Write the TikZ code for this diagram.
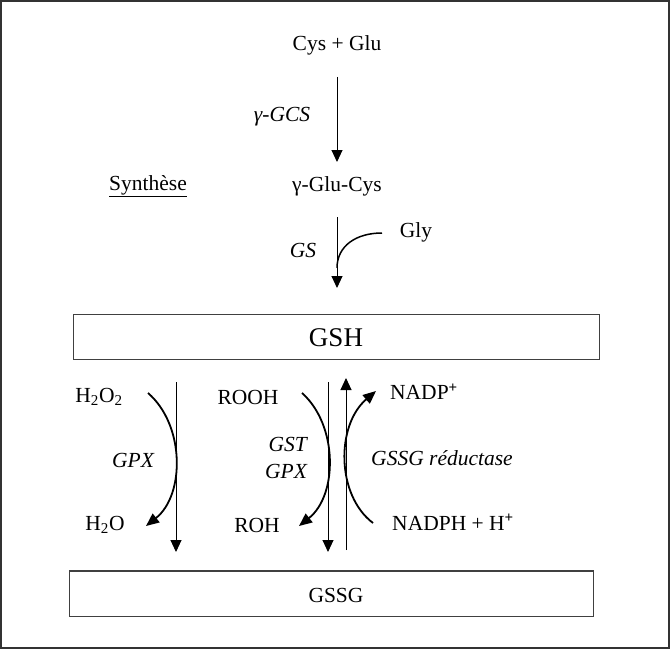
\documentclass[tikz,border=0pt]{standalone}
\usepackage{fontspec}
\setmainfont{Liberation Serif}
\usetikzlibrary{arrows.meta}
\begin{document}
\begin{tikzpicture}[x=1pt,y=-1pt,
  lbl/.style={inner sep=0pt,font=\fontsize{21.5}{24}\selectfont},
  enz/.style={lbl,font=\fontsize{21.5}{27}\selectfont\itshape},
  pool/.style={draw=black!75,line width=1.5pt,inner sep=0pt},
  thin/.style={line width=1pt,-{Triangle[length=12pt,width=11pt]}},
  bent/.style={line width=1.8pt,-{Triangle[length=13pt,width=11pt]}},
  plain/.style={line width=1pt}]
\useasboundingbox (0,0) rectangle (671,650);
\draw[black!80,line width=2pt] (1,1) rectangle (669,648);
% boxes
\node[pool,minimum width=526pt,minimum height=45pt] (gsh) at (336.5,337) {};
\node[lbl,font=\fontsize{27}{30}\selectfont] (gshl) at (336,338) {GSH};
\node[pool,minimum width=524pt,minimum height=45.5pt] (gssg) at (331.5,593.5) {};
\node[lbl] (gssgl) at (336,595) {GSSG};
% synthesis
\node[lbl] (cysglu) at (337,45) {Cys + Glu};
\node[enz] (gcs) at (282,117) {γ-GCS};
\node[lbl] (glucys) at (337,186) {γ-Glu-Cys};
\node[lbl] (synth) at (148,186) {\underline{Synth\`ese}};
\node[enz] (gs) at (303,250) {GS};
\node[lbl] (gly) at (416,232) {Gly};
\coordinate (a1s) at (337,77);
\coordinate (a1e) at (337,162);
\coordinate (a2s) at (337,217);
\coordinate (a2e) at (337,288);
\coordinate (glys) at (382,233);
\coordinate (glye) at (337,268);
\draw[thin] (a1s) -- (a1e);
\draw[thin] (a2s) -- (a2e);
\draw[line width=1.5pt] (glys) .. controls (356,233) and (337,246) .. (glye);
% lower left
\node[lbl] (h2o2) at (99,397) {H\textsubscript{2}O\textsubscript{2}};
\node[enz] (gpx1) at (133,460) {GPX};
\node[lbl] (h2o) at (105,525) {H\textsubscript{2}O};
\coordinate (v1s) at (176,382);
\coordinate (v1e) at (176,552);
\draw[thin] (v1s) -- (v1e);
\coordinate (c1s) at (148,393);
\coordinate (c1e) at (146,526);
\draw[bent] (c1s) .. controls (185,425) and (185,495) .. (c1e);
% middle
\node[lbl] (rooh) at (248,397) {ROOH};
\node[enz,align=right] (gstgpx) at (286,458) {GST\\GPX};
\node[lbl] (roh) at (257,525) {ROH};
\coordinate (v2s) at (328,382);
\coordinate (v2e) at (328,552);
\draw[thin] (v2s) -- (v2e);
\coordinate (c2s) at (302,393);
\coordinate (c2e) at (299,526);
\draw[bent] (c2s) .. controls (338,425) and (338,495) .. (c2e);
% right
\coordinate (v3s) at (346,550);
\coordinate (v3e) at (346,378);
\draw[thin] (v3s) -- (v3e);
\node[lbl] (nadp) at (424,392) {NADP\textsuperscript{\textbf{+}}};
\node[enz] (gr) at (442,458) {GSSG r\'eductase};
\node[lbl] (nadph) at (453,522) {NADPH + H\textsuperscript{\textbf{+}}};
\coordinate (c3s) at (373,523);
\coordinate (c3e) at (376,391);
\draw[bent] (c3s) .. controls (336,495) and (336,425) .. (c3e);
\end{tikzpicture}
\end{document}
